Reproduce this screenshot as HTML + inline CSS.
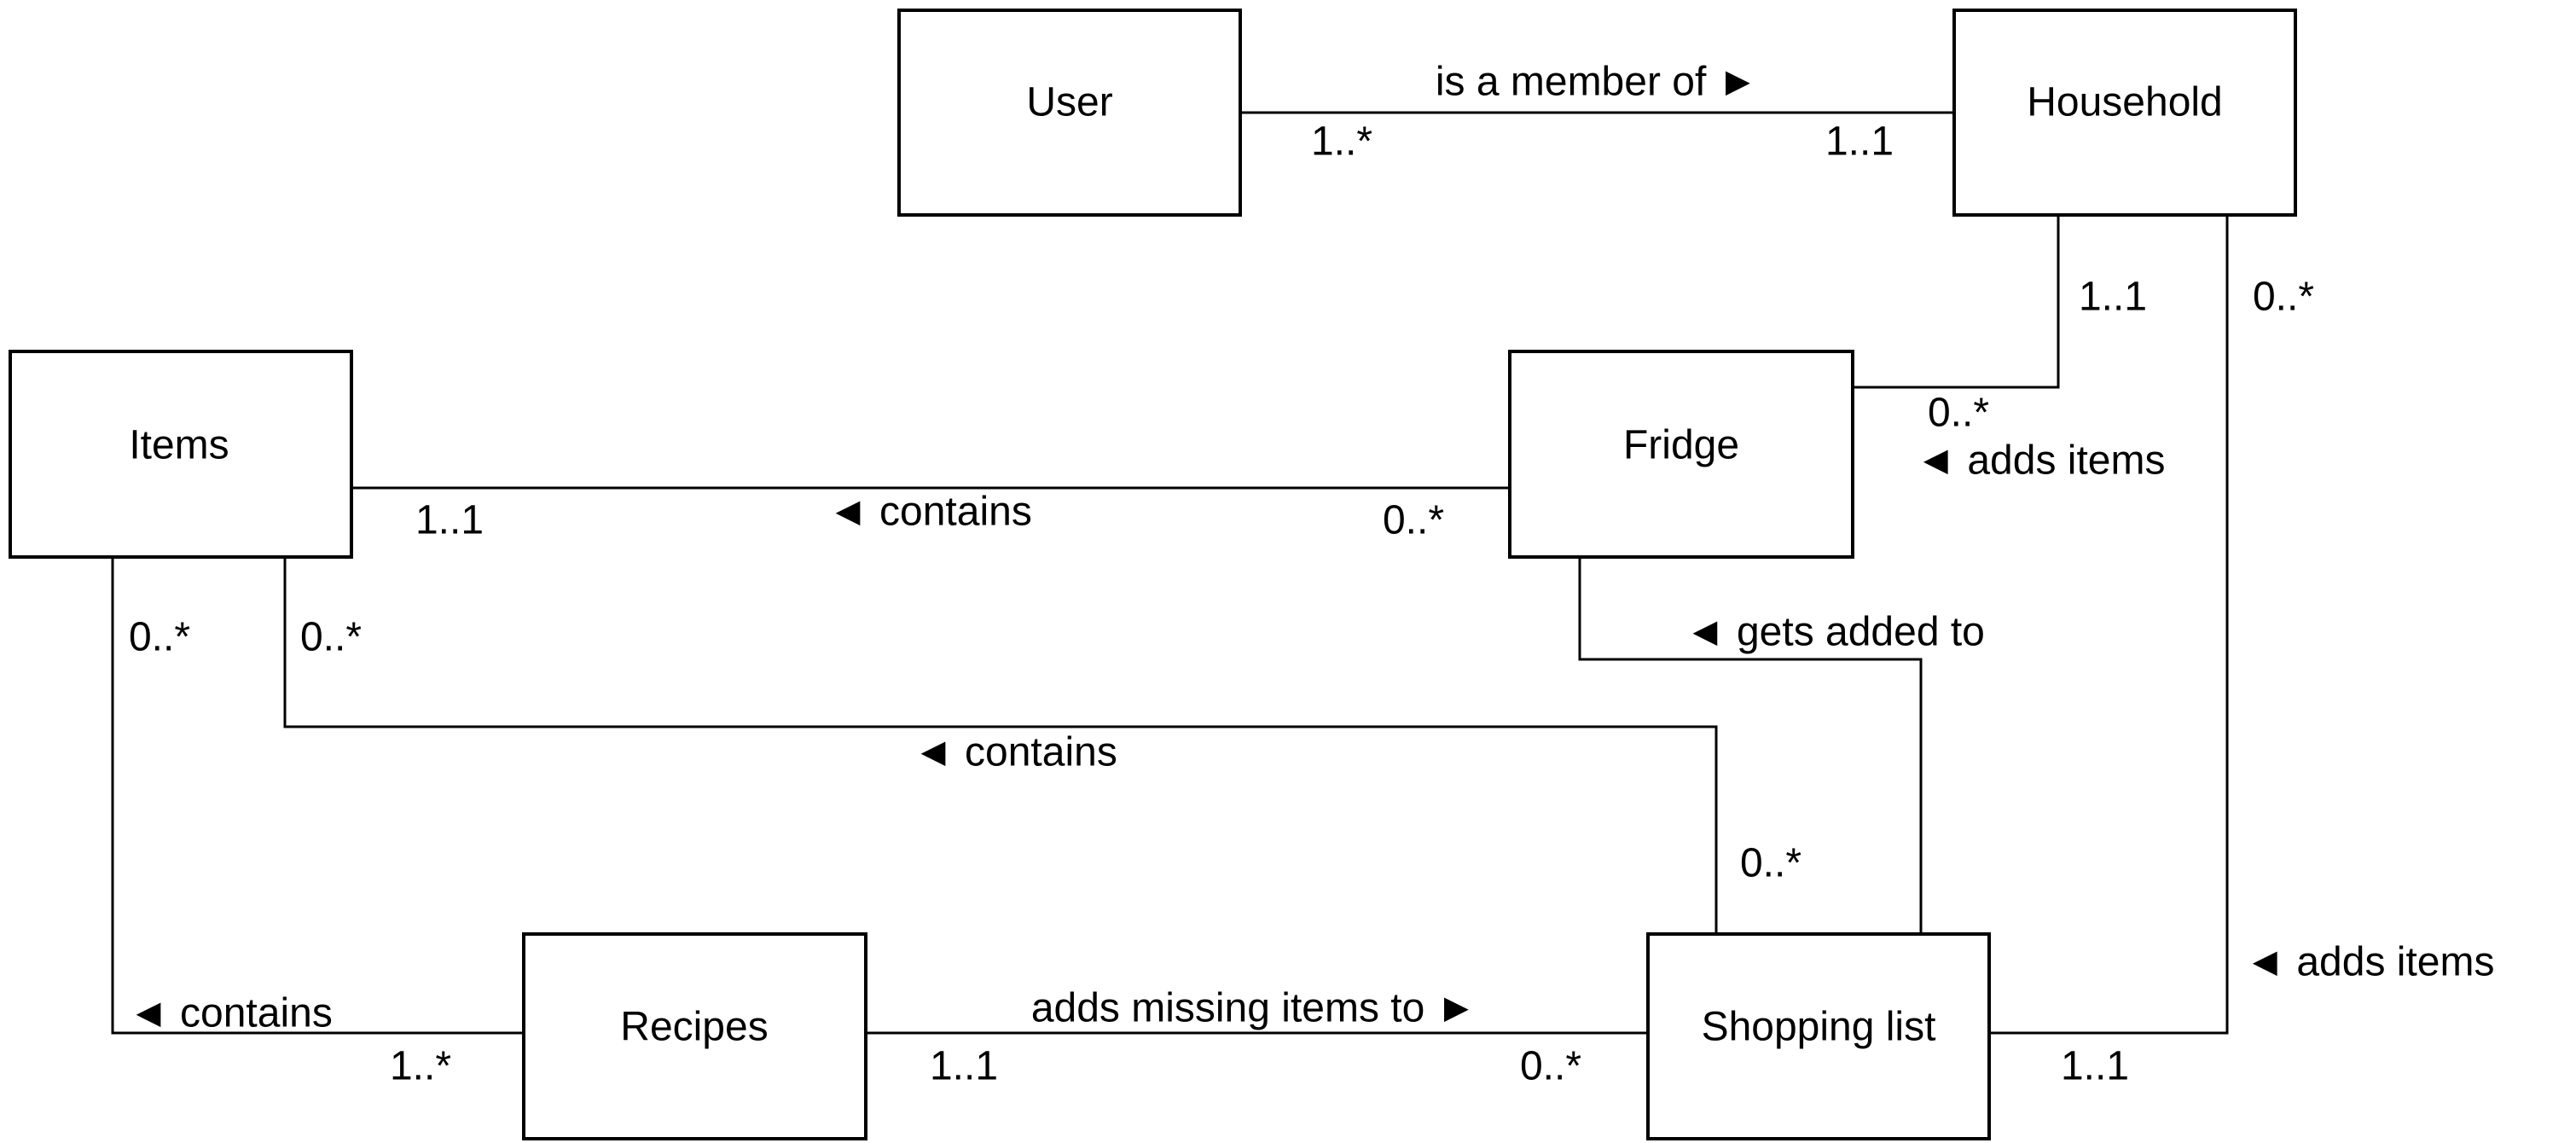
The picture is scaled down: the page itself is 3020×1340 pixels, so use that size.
<!DOCTYPE html>
<html><head><meta charset="utf-8"><style>
html,body{margin:0;padding:0;background:#fff;}
svg{display:block;}
text{font-family:"Liberation Sans","DejaVu Sans",sans-serif;font-size:48px;fill:#000;dominant-baseline:central;text-anchor:middle;}
</style></head><body>
<svg width="3020" height="1340" viewBox="0 0 3020 1340" xmlns="http://www.w3.org/2000/svg">
<g fill="#fff" stroke="#000" stroke-width="4">
<rect x="1054" y="12" width="400" height="240"/>
<rect x="2291" y="12" width="400" height="240"/>
<rect x="12" y="412" width="400" height="241"/>
<rect x="1770" y="412" width="402" height="241"/>
<rect x="614" y="1095" width="401" height="240"/>
<rect x="1932" y="1095" width="400" height="240"/>
</g>
<g fill="none" stroke="#000" stroke-width="3">
<path d="M1454 132H2291"/>
<path d="M412 572H1770"/>
<path d="M2413 252V454H2172"/>
<path d="M2611 252V1211H2332"/>
<path d="M1852 653V773H2252V1095"/>
<path d="M334 653V852H2012V1095"/>
<path d="M132 653V1211H614"/>
<path d="M1015 1211H1932"/>
</g>
<text x="1254" y="120">User</text>
<text x="2491" y="120">Household</text>
<text x="210" y="522">Items</text>
<text x="1971" y="522">Fridge</text>
<text x="814" y="1204">Recipes</text>
<text x="2132" y="1204">Shopping list</text>
<text x="1872" y="96">is a member of ►</text>
<text x="1573" y="166">1..*</text>
<text x="2180" y="166">1..1</text>
<text x="2477" y="348">1..1</text>
<text x="2677" y="348">0..*</text>
<text x="2296" y="484">0..*</text>
<text x="2392" y="540">◄ adds items</text>
<text x="527" y="610">1..1</text>
<text x="1090" y="600">◄ contains</text>
<text x="1657" y="610">0..*</text>
<text x="2151" y="741">◄ gets added to</text>
<text x="187" y="747">0..*</text>
<text x="388" y="747">0..*</text>
<text x="1190" y="882">◄ contains</text>
<text x="2076" y="1012">0..*</text>
<text x="2778" y="1128">◄ adds items</text>
<text x="270" y="1188">◄ contains</text>
<text x="493" y="1250">1..*</text>
<text x="1470" y="1182">adds missing items to ►</text>
<text x="1130" y="1250">1..1</text>
<text x="1818" y="1250">0..*</text>
<text x="2456" y="1250">1..1</text>
</svg>
</body></html>
